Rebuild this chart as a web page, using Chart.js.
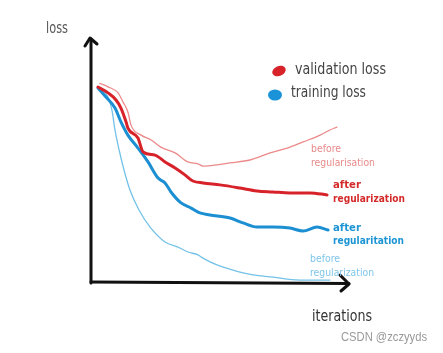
<!DOCTYPE html>
<html>
<head>
<meta charset="utf-8">
<script src="https://cdn.jsdelivr.net/npm/chart.js@4/dist/chart.umd.min.js"></script>
<style>
html,body{margin:0;padding:0;background:#fff;}
#wrap{width:443px;height:353px;position:relative;}
</style>
</head>
<body>
<div id="wrap"><canvas id="c" width="443" height="353"></canvas></div>
<script>
// validation loss, before regularisation
const valBeforeX = [3.4,6.6,10.5,12.4,14.3,15.5,19.4,23.3,27.1,32.6,37.6,41.5,43.4,48.8,53.9,61.6,69.4,77.1,82.2,88.8,92.6,95.3];
const valBeforeY = [8.14,8.00,7.75,7.38,6.97,6.43,6.02,5.82,5.53,5.29,4.92,4.84,4.75,4.80,4.88,5.00,5.29,5.53,5.74,6.02,6.23,6.35];
// validation loss, after regularization
const valAfterX = [2.7,6.6,9.7,11.6,13.6,14.3,18.2,20.2,24.8,28.7,32.6,36.4,39.5,43.4,50.0,57.8,64.3,70.5,77.1,84.9,91.5];
const valAfterY = [7.99,7.75,7.46,7.13,6.56,6.31,5.90,5.33,5.20,4.92,4.67,4.39,4.14,4.06,3.98,3.85,3.73,3.69,3.65,3.65,3.57];
// training loss, after regularization
const trainAfterX = [2.7,5.8,9.3,11.6,14.3,18.2,22.1,26.0,28.7,31.0,34.9,38.8,42.2,46.1,53.9,58.9,64.3,70.5,77.1,82.2,87.6,91.9];
const trainAfterY = [7.95,7.58,7.13,6.56,6.02,5.49,4.92,4.26,4.06,3.69,3.24,3.03,2.83,2.75,2.62,2.42,2.25,2.25,2.21,2.09,2.25,2.13];
// training loss, before regularization
const trainBeforeX = [3.1,6.6,8.1,9.3,10.9,12.8,15.1,18.6,22.9,28.7,33.7,37.6,41.5,43.4,48.8,55.0,62.8,70.5,76.0,82.2,87.6,92.6];
const trainBeforeY = [7.95,7.58,7.05,6.23,5.41,4.59,3.77,2.95,2.25,1.64,1.43,1.23,1.11,0.98,0.70,0.49,0.29,0.20,0.12,0.08,0.08,0.08];

const legendLabels = ['validation loss','training loss'];
const axisLabels = {x:'iterations', y:'loss'};

function pts(xs, ys){ return xs.map((x,i)=>({x:x,y:ys[i]})); }

const C = {
  redThick:'#d8222a', redThin:'#ec8a8a', blueThick:'#1b8fd2', blueThin:'#74c2e8'
};

const decor = {
  id:'decor',
  beforeDraw(chart){
    const ctx = chart.ctx;
    ctx.save(); ctx.fillStyle='#fff'; ctx.fillRect(0,0,chart.width,chart.height); ctx.restore();
  },
  afterDraw(chart){
    const ctx = chart.ctx;
    const xs = chart.scales.x, ys = chart.scales.y;
    const x0 = xs.getPixelForValue(0), y0 = ys.getPixelForValue(0);
    const xEnd = xs.getPixelForValue(100), yTop = ys.getPixelForValue(10);
    ctx.save();
    ctx.strokeStyle = '#111'; ctx.lineWidth = 3; ctx.lineCap='round'; ctx.lineJoin='round';
    ctx.beginPath(); ctx.moveTo(x0, y0+1); ctx.lineTo(x0, yTop+1); ctx.stroke();
    ctx.beginPath(); ctx.moveTo(x0, y0); ctx.lineTo(xEnd, y0+1.5); ctx.stroke();
    // arrow heads
    ctx.beginPath(); ctx.moveTo(x0-6, yTop+8); ctx.lineTo(x0-1, yTop); ctx.lineTo(x0+6, yTop+6); ctx.stroke();
    ctx.beginPath(); ctx.moveTo(xEnd-9, y0-7); ctx.lineTo(xEnd, y0+2); ctx.lineTo(xEnd-8, y0+9); ctx.stroke();

    ctx.textBaseline='middle';
    function txt(s, x, y, font, color, w){
      ctx.font = font; ctx.fillStyle = color;
      const m = ctx.measureText(s).width;
      if (w) { ctx.save(); ctx.translate(x,y); ctx.scale(w/m,1); ctx.fillText(s,0,0); ctx.restore(); }
      else ctx.fillText(s,x,y);
    }
    const hand = '"DejaVu Sans", sans-serif';
    txt(axisLabels.y, 46, 29, '15px '+hand, '#555', 22);
    txt(axisLabels.x, 312, 317, '15px '+hand, '#333', 60);
    // legend
    ctx.fillStyle = C.redThick;
    ctx.beginPath(); ctx.ellipse(279, 71, 7, 5, -0.4, 0, Math.PI*2); ctx.fill();
    ctx.fillStyle = '#1a93d8';
    ctx.beginPath(); ctx.ellipse(275, 95, 7, 5.5, 0, 0, Math.PI*2); ctx.fill();
    txt(legendLabels[0], 295, 70, '15px '+hand, '#444', 91);
    txt(legendLabels[1], 291, 93, '15px '+hand, '#444', 75);
    // curve labels
    txt('before', 311, 149, '11px '+hand, '#e88a8a', 30);
    txt('regularisation', 311, 163, '11px '+hand, '#e88a8a', 64);
    txt('after', 333, 185, 'bold 11px '+hand, '#d42a2a', 28);
    txt('regularization', 333, 199, 'bold 11px '+hand, '#d42a2a', 72);
    txt('after', 333, 228, 'bold 11px '+hand, '#1d95d4', 28);
    txt('regularitation', 333, 241, 'bold 11px '+hand, '#1d95d4', 71);
    txt('before', 310, 259, '11px '+hand, '#7fc5ea', 30);
    txt('regularization', 310, 273, '11px '+hand, '#7fc5ea', 64);
    txt('CSDN @zczyyds', 341, 337, '13px "Liberation Sans", sans-serif', '#999', 86);
    ctx.restore();
  }
};

new Chart(document.getElementById('c'), {
  type:'line',
  data:{
    datasets:[
      {label:'validation loss before', data:pts(valBeforeX,valBeforeY), borderColor:C.redThin, borderWidth:1.3},
      {label:'validation loss after', data:pts(valAfterX,valAfterY), borderColor:C.redThick, borderWidth:3},
      {label:'training loss after', data:pts(trainAfterX,trainAfterY), borderColor:C.blueThick, borderWidth:3},
      {label:'training loss before', data:pts(trainBeforeX,trainBeforeY), borderColor:C.blueThin, borderWidth:1.3}
    ]
  },
  options:{
    responsive:false, animation:false, devicePixelRatio:1,
    layout:{padding:{left:91,right:94,top:38,bottom:71}},
    elements:{point:{radius:0}, line:{cubicInterpolationMode:'monotone', borderCapStyle:'round', borderJoinStyle:'round'}},
    plugins:{legend:{display:false}, tooltip:{enabled:false}},
    scales:{
      x:{type:'linear', min:0, max:100, display:false},
      y:{type:'linear', min:0, max:10, display:false}
    }
  },
  plugins:[decor]
});
</script>
</body>
</html>
